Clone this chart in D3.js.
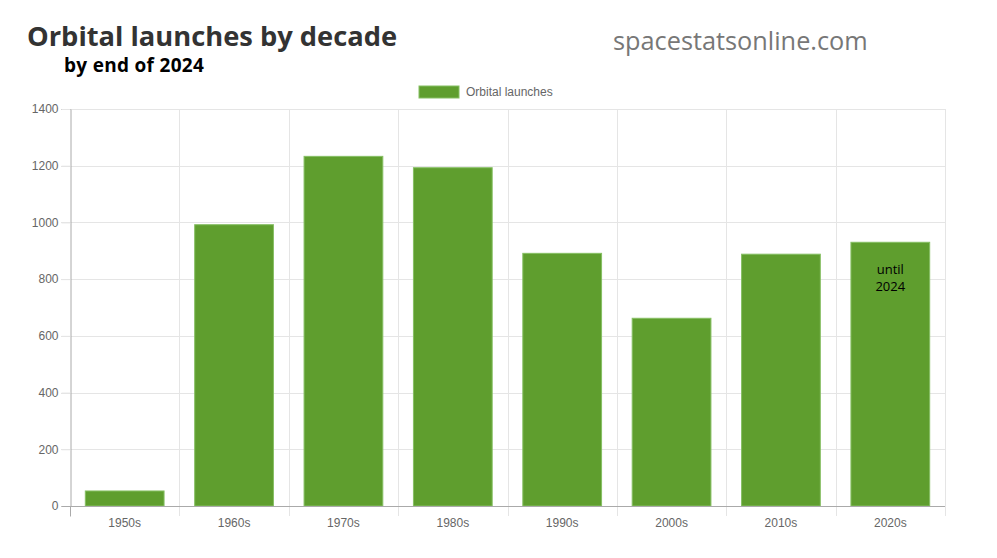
<!DOCTYPE html>
<html>
<head>
<meta charset="utf-8">
<script src="https://cdn.jsdelivr.net/npm/d3@7"></script>
<style>
  body { margin: 0; background: #fff; }
  svg { display: block; }
</style>
</head>
<body>
<script>
// data
const decades = ["1950s", "1960s", "1970s", "1980s", "1990s", "2000s", "2010s", "2020s"];
const launches = [53, 992, 1233, 1193, 891, 662, 888, 930];
const yTicks = [0, 200, 400, 600, 800, 1000, 1200, 1400];
const seriesName = "Orbital launches";
const barNote = ["until", "2024"];

const W = 997, H = 558;
const m = { left: 70, right: 52, top: 109, bottom: 52 };
const green = "#5f9e2e";

const svg = d3.select("body").append("svg").attr("width", W).attr("height", H);

// titles
svg.append("text").text("Orbital launches by decade")
  .attr("x", 27).attr("y", 46)
  .attr("font-family", "Open Sans, sans-serif").attr("font-weight", "bold")
  .attr("font-size", 27.3).attr("fill", "#333");
svg.append("text").text("by end of 2024")
  .attr("x", 64).attr("y", 72)
  .attr("font-family", "Open Sans, sans-serif").attr("font-weight", "bold")
  .attr("font-size", 19).attr("letter-spacing", 0.3).attr("fill", "#000");
svg.append("text").text("spacestatsonline.com")
  .attr("x", 613).attr("y", 50)
  .attr("font-family", "Open Sans, sans-serif")
  .attr("font-size", 25.3).attr("fill", "#777");

// scales
const x = d3.scaleBand().domain(decades).range([m.left, W - m.right]).paddingInner(0).paddingOuter(0);
const y = d3.scaleLinear().domain([0, 1400]).range([H - m.bottom, m.top]);

// grid
const grid = svg.append("g").attr("stroke", "#e5e5e5").attr("stroke-width", 1);
grid.selectAll(".hg").data(yTicks.slice(1)).enter().append("line")
  .attr("x1", m.left - 9).attr("x2", W - m.right)
  .attr("y1", d => Math.round(y(d)) + 0.5).attr("y2", d => Math.round(y(d)) + 0.5);
const vlines = decades.map(d => x(d)).slice(1).concat([W - m.right]);
grid.selectAll(".vg").data(vlines).enter().append("line")
  .attr("x1", d => Math.round(d) + 0.5).attr("x2", d => Math.round(d) + 0.5)
  .attr("y1", m.top).attr("y2", H - m.bottom + 10);

// bars
const bw = x.bandwidth() * 0.72;
svg.selectAll(".bar").data(launches).enter().append("rect")
  .attr("x", (d, i) => x(decades[i]) + (x.bandwidth() - bw) / 2)
  .attr("y", d => y(d))
  .attr("width", bw)
  .attr("height", d => y(0) - y(d))
  .attr("fill", green)
  .attr("stroke", "#86bf63").attr("stroke-width", 1);

// axes
const yAxis = svg.append("g").attr("transform", `translate(${m.left + 0.5},0)`)
  .call(d3.axisLeft(y).tickValues(yTicks).tickFormat(d3.format("d")).tickSize(9).tickPadding(3));
const xAxis = svg.append("g").attr("transform", `translate(0,${Math.round(y(0)) + 0.5})`)
  .call(d3.axisBottom(x).tickSize(0).tickPadding(12));
[yAxis, xAxis].forEach(g => {
  g.select(".domain").attr("stroke", "#aaa");
  g.selectAll(".tick line").attr("stroke", "#aaa");
  g.selectAll("text").attr("font-family", "Liberation Sans, Arial, sans-serif")
    .attr("font-size", 12).attr("fill", "#666");
});
yAxis.selectAll(".tick line").attr("stroke", "#e5e5e5");
yAxis.select(".tick line").attr("stroke", "#aaa");
xAxis.append("line").attr("x1", m.left + 0.5).attr("x2", m.left + 0.5)
  .attr("y1", 0).attr("y2", 10).attr("stroke", "#aaa");
xAxis.select(".domain").attr("d", `M${m.left},0H${W - m.right}`);

// annotation on last bar
const last = decades[decades.length - 1];
const note = svg.append("text")
  .attr("x", x(last) + x.bandwidth() / 2)
  .attr("y", y(launches[launches.length - 1]) + 32)
  .attr("text-anchor", "middle")
  .attr("font-family", "Open Sans, sans-serif").attr("font-size", 13).attr("fill", "#000");
note.selectAll("tspan").data(barNote).enter().append("tspan")
  .attr("x", x(last) + x.bandwidth() / 2)
  .attr("dy", (d, i) => i === 0 ? 0 : 17)
  .text(d => d);

// legend
const lg = svg.append("g").attr("transform", "translate(419,86)");
lg.append("rect").attr("width", 40).attr("height", 12).attr("fill", green).attr("stroke", "#86bf63");
lg.append("text").text(seriesName).attr("x", 47).attr("y", 10)
  .attr("font-family", "Liberation Sans, Arial, sans-serif").attr("font-size", 12).attr("fill", "#666");
</script>
</body>
</html>
